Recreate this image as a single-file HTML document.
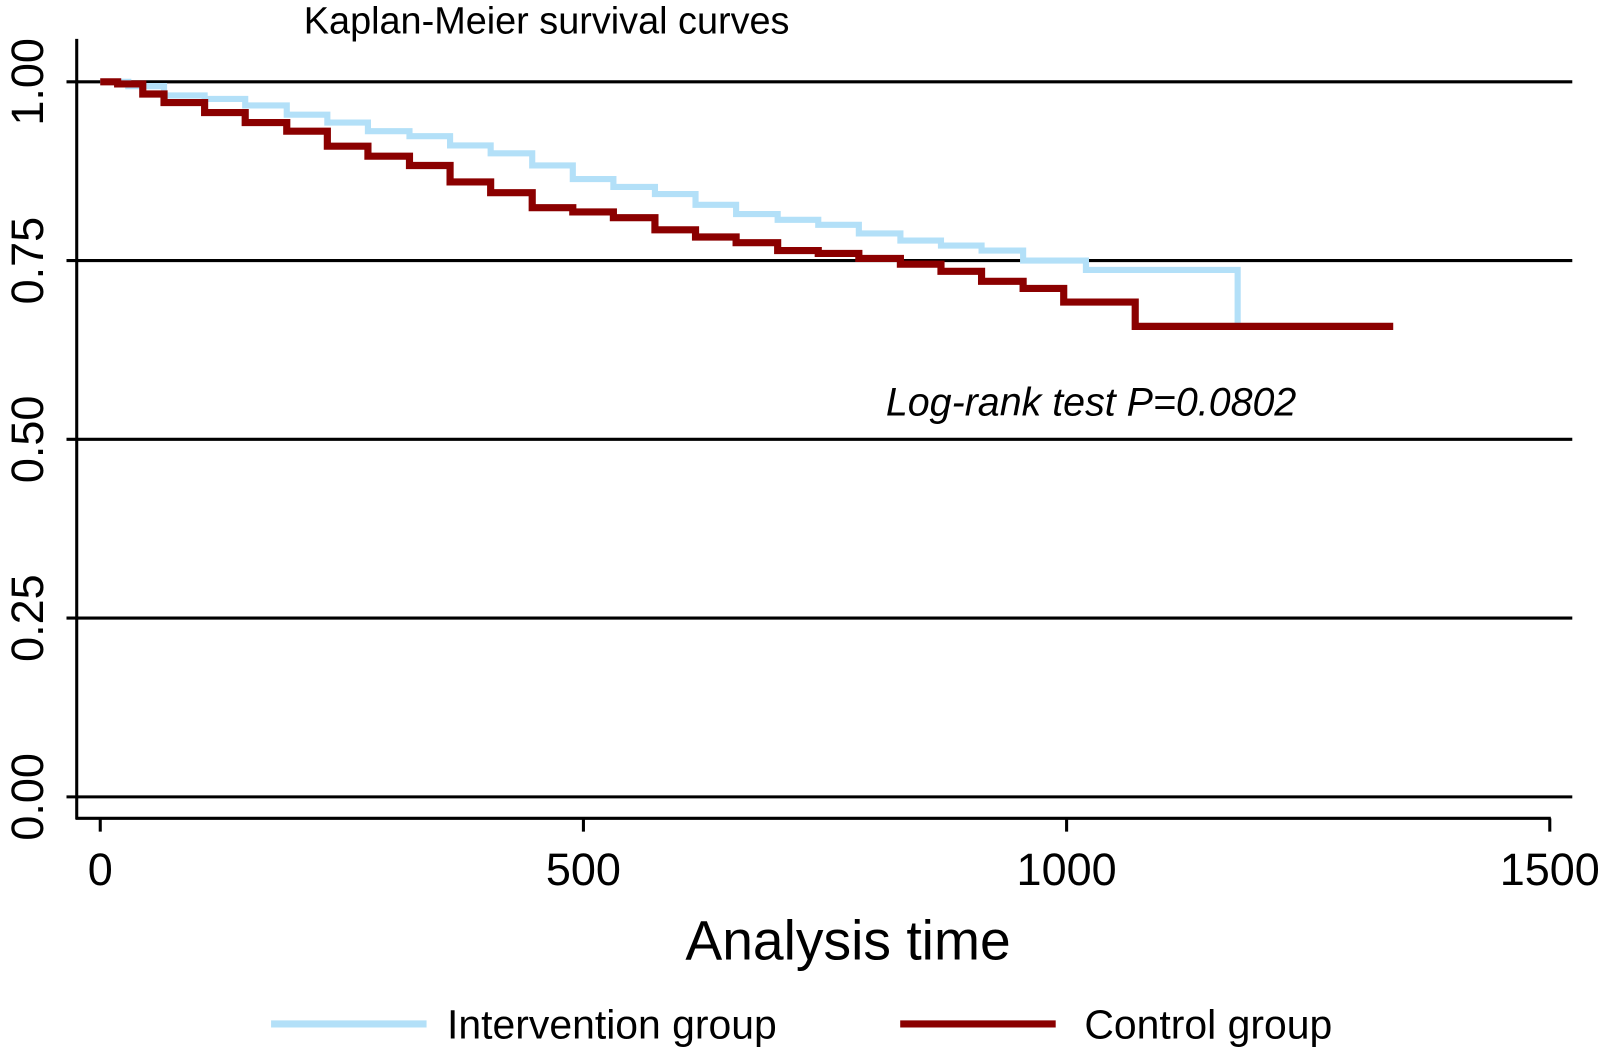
<!DOCTYPE html>
<html><head><meta charset="utf-8"><style>
html,body{margin:0;padding:0;background:#fff;}
svg{display:block;font-family:"Liberation Sans",sans-serif;}
</style></head><body>
<svg id="chart" width="1604" height="1049" viewBox="0 0 1568 1025.5" preserveAspectRatio="none">
<text x="297" y="33" font-size="37" fill="#000">Kaplan-Meier survival curves</text>
<g id="grid"></g><g id="axes"></g><g id="curves"></g>
<text x="866" y="406" font-size="38.5" font-style="italic" fill="#000">Log-rank test P=0.0802</text>
<text x="829" y="938" font-size="54" text-anchor="middle" fill="#000">Analysis time</text>
<line x1="265" y1="1001" x2="417" y2="1001" stroke="#b3e0f8" stroke-width="7"/>
<text x="437" y="1015" font-size="40" fill="#000">Intervention group</text>
<line x1="880" y1="1001" x2="1032" y2="1001" stroke="#8b0000" stroke-width="7"/>
<text x="1060" y="1015" font-size="40" fill="#000">Control group</text>
</svg>
<script>
const yTicks=[0,0.25,0.5,0.75,1.0];
const yTickLabels=["0.00","0.25","0.50","0.75","1.00"];
const xTicks=[0,500,1000,1500];
const xTickLabels=["0","500","1000","1500"];
const intTimes=[0,29,66,108,150,193,235,277,320,362,404,447,489,531,574,616,658,701,743,785,828,870,912,955,1020,1177];
const intSurv=[1.0,0.994,0.981,0.976,0.967,0.954,0.943,0.931,0.924,0.911,0.900,0.883,0.864,0.853,0.843,0.828,0.815,0.807,0.800,0.788,0.778,0.771,0.764,0.750,0.737,0.662];
const intEnd=1177;
const ctlTimes=[0,18,44,66,108,150,193,235,277,320,362,404,447,489,531,574,616,658,701,743,785,828,870,912,955,997,1071];
const ctlSurv=[1.0,0.997,0.983,0.971,0.957,0.943,0.931,0.910,0.896,0.883,0.860,0.845,0.824,0.818,0.810,0.793,0.783,0.775,0.764,0.760,0.753,0.745,0.735,0.721,0.711,0.692,0.658];
const ctlEnd=1338;
const NS="http://www.w3.org/2000/svg";
const xs=t=>98+t*(1515-98)/1500;
const ys=v=>779-v*(779-80);
function mk(tag,attrs,parent){const e=document.createElementNS(NS,tag);for(const k in attrs)e.setAttribute(k,attrs[k]);document.getElementById(parent).appendChild(e);return e;}
yTicks.forEach((v,i)=>{
  const g=mk('line',{x1:65,x2:1537,y1:ys(v),y2:ys(v),stroke:'#000','stroke-width':3},'grid');
  
  
  const t=mk('text',{x:0,y:0,'font-size':44,'text-anchor':'middle',transform:`translate(42,${ys(v)}) rotate(-90)`},'axes');
  t.textContent=yTickLabels[i];
  
  
});
const ya=mk('line',{x1:75,x2:75,y1:38,y2:801,stroke:'#000','stroke-width':3},'axes');


const xa=mk('line',{x1:74,x2:1516,y1:800,y2:800,stroke:'#000','stroke-width':3},'axes');


xTicks.forEach((v,i)=>{
  const tk=mk('line',{x1:xs(v),x2:xs(v),y1:800,y2:813,stroke:'#000','stroke-width':3},'axes');
  
  
  const t=mk('text',{x:xs(v),y:865,'font-size':44,'text-anchor':'middle'},'axes');
  t.textContent=xTickLabels[i];
  
  
});
function stepPath(times,surv,end){
  let d=`M${xs(times[0])},${ys(surv[0])}`;
  for(let i=1;i<times.length;i++){d+=` H${xs(times[i])} V${ys(surv[i])}`;}
  d+=` H${xs(end)}`;return d;
}
const pi=mk('path',{d:stepPath(intTimes,intSurv,intEnd),fill:'none',stroke:'#b3e0f8','stroke-width':6},'curves');


const pc=mk('path',{d:stepPath(ctlTimes,ctlSurv,ctlEnd),fill:'none',stroke:'#8b0000','stroke-width':7},'curves');


</script>
</body></html>
